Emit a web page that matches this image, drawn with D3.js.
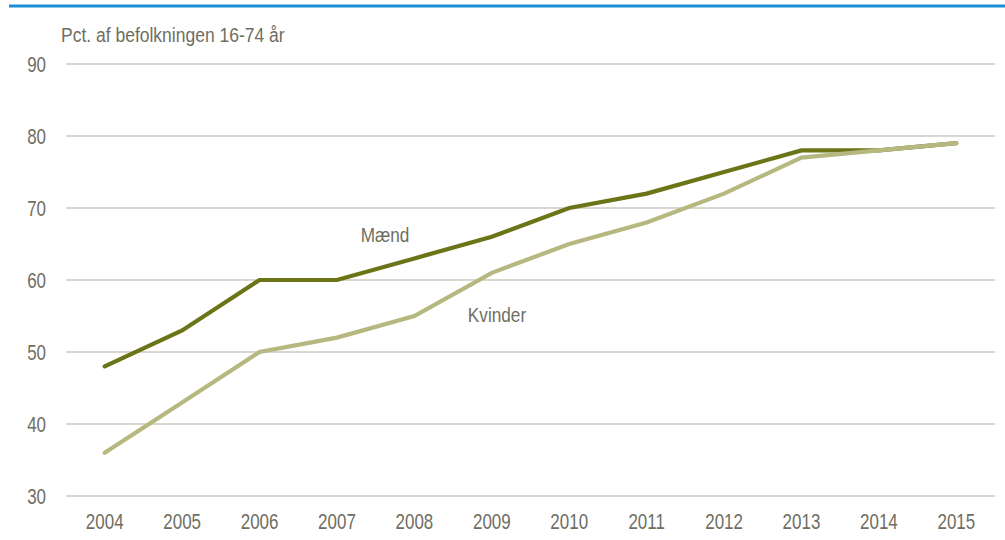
<!DOCTYPE html>
<html>
<head>
<meta charset="utf-8">
<script src="https://cdn.jsdelivr.net/npm/d3@7"></script>
<style>
  html, body { margin: 0; padding: 0; background: #fff; }
  svg { display: block; }
  text { font-family: "Liberation Sans", Arial, sans-serif; fill: #6f6e62; }
</style>
</head>
<body>
<svg id="chart" width="1005" height="540"></svg>
<script>
// Internet use by sex, share of population aged 16-74
const years = ["2004", "2005", "2006", "2007", "2008", "2009", "2010", "2011", "2012", "2013", "2014", "2015"];
const maend = [48, 53, 60, 60, 63, 66, 70, 72, 75, 78, 78, 79];
const kvinder = [36, 43, 50, 52, 55, 61, 65, 68, 72, 77, 78, 79];
const yTicks = [30, 40, 50, 60, 70, 80, 90];
const yTitle = "Pct. af befolkningen 16-74 år";
const seriesNames = ["Mænd", "Kvinder"];

const svg = d3.select("#chart");
const W = 1005, H = 540;
const plotLeft = 66, plotRight = 995, plotTop = 64, plotBottom = 496;
// condensed lettering: Liberation Sans squeezed horizontally
const tickSize = 22, tickSqueeze = 0.77;
const labelSize = 20, labelSqueeze = 0.86;

// top rule
svg.append("line")
  .attr("x1", 9).attr("x2", W).attr("y1", 6).attr("y2", 6)
  .attr("stroke", "#1a90d4").attr("stroke-width", 3);

const x = d3.scaleBand().domain(years).range([plotLeft, plotRight]);
const y = d3.scaleLinear().domain([30, 90]).range([plotBottom, plotTop]);

// gridlines
svg.append("g").selectAll("line").data(yTicks).join("line")
  .attr("x1", plotLeft).attr("x2", plotRight)
  .attr("y1", d => y(d)).attr("y2", d => y(d))
  .attr("stroke", "#b3b09f").attr("stroke-width", 1);

// y-axis labels
const yAxis = d3.axisLeft(y).tickValues(yTicks).tickSize(0).tickPadding(0);
svg.append("g").attr("transform", "translate(46,0)").call(yAxis)
  .attr("font-family", null).attr("font-size", null)
  .call(g => g.select(".domain").remove())
  .selectAll("text")
  .attr("font-size", tickSize).attr("dy", null).attr("y", 7.5)
  .attr("transform", `scale(${tickSqueeze},1)`);

// x-axis labels
const xAxis = d3.axisBottom(x).tickSize(0).tickPadding(0);
svg.append("g").attr("transform", `translate(0,${plotBottom})`).call(xAxis)
  .attr("font-family", null).attr("font-size", null)
  .call(g => g.select(".domain").remove())
  .selectAll("text")
  .attr("font-size", tickSize).attr("dy", null).attr("y", 33)
  .attr("transform", `scale(${tickSqueeze},1)`);

svg.selectAll(".tick text").attr("fill", "#6f6e62");

// axis title
svg.append("text")
  .attr("transform", `translate(61,42) scale(0.875,1)`)
  .attr("font-size", labelSize).text(yTitle);

// lines
const line = d3.line()
  .x((d, i) => x(years[i]) + x.bandwidth() / 2)
  .y(d => y(d));

svg.append("path").datum(maend)
  .attr("d", line).attr("fill", "none")
  .attr("stroke", "#6b7416").attr("stroke-width", 4.2)
  .attr("stroke-linecap", "round").attr("stroke-linejoin", "miter");

svg.append("path").datum(kvinder)
  .attr("d", line).attr("fill", "none")
  .attr("stroke", "#b6b880").attr("stroke-width", 4.2)
  .attr("stroke-linecap", "round").attr("stroke-linejoin", "miter");

// series labels
svg.append("text")
  .attr("transform", `translate(385,242) scale(${labelSqueeze},1)`)
  .attr("text-anchor", "middle").attr("font-size", labelSize).text(seriesNames[0]);
svg.append("text")
  .attr("transform", `translate(497,322) scale(${labelSqueeze},1)`)
  .attr("text-anchor", "middle").attr("font-size", labelSize).text(seriesNames[1]);
</script>
</body>
</html>
